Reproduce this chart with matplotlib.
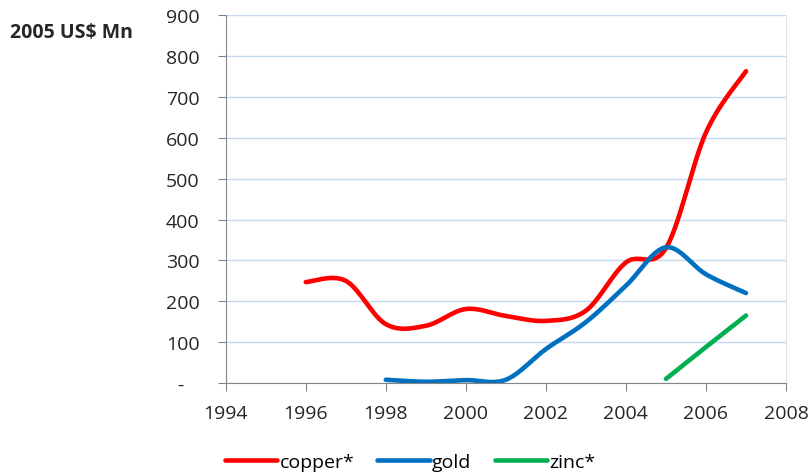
import numpy as np
import matplotlib.pyplot as plt
from matplotlib.ticker import FuncFormatter

# Values (2005 US$ Mn)
copper_years = [1996, 1997, 1998, 1999, 2000, 2001, 2002, 2003, 2004, 2005, 2006, 2007]
copper = [247, 250, 144, 140, 181, 164, 152, 177, 295, 330, 613, 763]
gold_years = [1998, 1999, 2000, 2001, 2002, 2003, 2004, 2005, 2006, 2007]
gold = [8, 3, 7, 8, 83, 149, 238, 332, 266, 220]
zinc_years = [2005, 2006, 2007]
zinc = [10, 88, 165]


def smooth(x, y, n=30):
    # Excel-style smoothed line (Catmull-Rom / Bezier through the points)
    x = np.asarray(x, float)
    y = np.asarray(y, float)
    px = np.concatenate([[x[0]], x, [x[-1]]])
    py = np.concatenate([[y[0]], y, [y[-1]]])
    xs, ys = [], []
    t = np.linspace(0, 1, n)
    for i in range(1, len(px) - 2):
        p0 = np.array([px[i], py[i]])
        p3 = np.array([px[i + 1], py[i + 1]])
        p1 = p0 + (np.array([px[i + 1], py[i + 1]]) - np.array([px[i - 1], py[i - 1]])) / 6
        p2 = p3 - (np.array([px[i + 2], py[i + 2]]) - np.array([px[i], py[i]])) / 6
        b = ((1 - t) ** 3)[:, None] * p0 + (3 * (1 - t) ** 2 * t)[:, None] * p1 \
            + (3 * (1 - t) * t ** 2)[:, None] * p2 + (t ** 3)[:, None] * p3
        xs.extend(b[:, 0])
        ys.extend(b[:, 1])
    return xs, ys


plt.rcParams['font.family'] = ['Open Sans', 'DejaVu Sans']

fig = plt.figure(figsize=(8.12, 4.77), dpi=100)
ax = fig.add_axes([0.278, 0.195, 0.69, 0.771])

ax.plot(*smooth(copper_years, copper), color='#ff0000', lw=3.3, solid_capstyle='round', label='copper*')
ax.plot(*smooth(gold_years, gold), color='#0070c0', lw=3.3, solid_capstyle='round', label='gold')
ax.plot(*smooth(zinc_years, zinc), color='#00b050', lw=3.3, solid_capstyle='round', label='zinc*')

ax.set_xlim(1994, 2008)
ax.set_ylim(0, 900)
ax.set_xticks(range(1994, 2009, 2))
ax.set_yticks(range(0, 901, 100))
ax.yaxis.set_major_formatter(FuncFormatter(lambda v, p: '-   ' if v == 0 else '%d' % v))
ax.grid(axis='y', color='#c6d9f0', lw=1)
ax.set_axisbelow(True)

ax.spines['top'].set_visible(False)
ax.spines['right'].set_color('#e0e0e0')
ax.spines['left'].set_color('#868686')
ax.spines['bottom'].set_color('#868686')
ax.tick_params(axis='both', direction='out', color='#868686', length=6,
               labelsize=14, labelcolor='#262626')
ax.tick_params(axis='y', pad=13)
ax.tick_params(axis='x', pad=9)

fig.text(0.012, 0.92, '2005 US$ Mn', fontsize=14, fontweight='bold', color='#262626')

fig.legend(loc='center', bbox_to_anchor=(0.505, 0.03), ncol=3, frameon=False,
           fontsize=14, handlelength=2.7, columnspacing=1.2, handletextpad=0.1)

plt.savefig('out.png', dpi=100)
